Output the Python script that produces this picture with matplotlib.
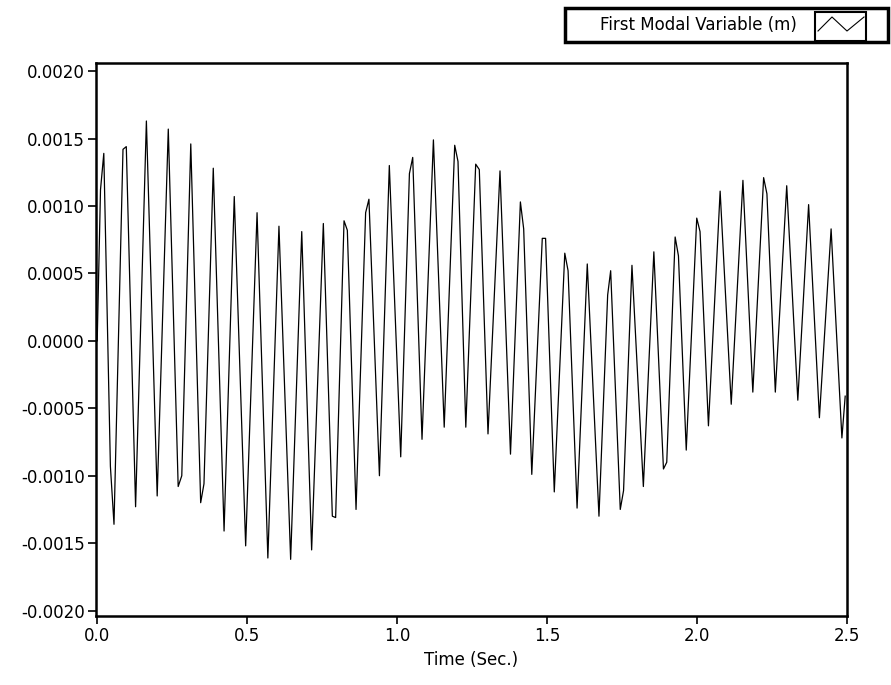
import matplotlib
matplotlib.use("Agg")
import matplotlib.pyplot as plt
from matplotlib.patches import Rectangle
from matplotlib.lines import Line2D

time_s = [0.000, 0.011, 0.022, 0.044, 0.056, 0.086, 0.097, 0.128, 0.164, 0.200,
          0.237, 0.270, 0.282, 0.312, 0.345, 0.356, 0.387, 0.423, 0.457, 0.495,
          0.533, 0.569, 0.606, 0.645, 0.682, 0.715, 0.754, 0.784, 0.795, 0.823,
          0.834, 0.863, 0.895, 0.906, 0.941, 0.974, 1.012, 1.041, 1.052, 1.083,
          1.121, 1.157, 1.192, 1.203, 1.229, 1.262, 1.274, 1.303, 1.343, 1.378,
          1.411, 1.422, 1.449, 1.484, 1.495, 1.524, 1.559, 1.570, 1.600, 1.634,
          1.673, 1.702, 1.712, 1.744, 1.755, 1.783, 1.821, 1.856, 1.888, 1.899,
          1.927, 1.938, 1.964, 1.999, 2.010, 2.038, 2.077, 2.114, 2.153, 2.186,
          2.222, 2.233, 2.261, 2.299, 2.336, 2.372, 2.408, 2.447, 2.483, 2.494]
disp_m = [0.00000, 0.00112, 0.00139, -0.00093, -0.00136, 0.00142, 0.00144, -0.00123, 0.00163, -0.00115,
          0.00157, -0.00108, -0.00100, 0.00146, -0.00120, -0.00106, 0.00128, -0.00141, 0.00107, -0.00152,
          0.00095, -0.00161, 0.00085, -0.00162, 0.00081, -0.00155, 0.00087, -0.00130, -0.00131, 0.00089,
          0.00082, -0.00125, 0.00095, 0.00105, -0.00100, 0.00130, -0.00086, 0.00124, 0.00136, -0.00073,
          0.00149, -0.00064, 0.00145, 0.00133, -0.00064, 0.00131, 0.00127, -0.00069, 0.00126, -0.00084,
          0.00103, 0.00083, -0.00099, 0.00076, 0.00076, -0.00112, 0.00065, 0.00052, -0.00124, 0.00057,
          -0.00130, 0.00034, 0.00052, -0.00125, -0.00111, 0.00056, -0.00108, 0.00066, -0.00095, -0.00090,
          0.00077, 0.00063, -0.00081, 0.00091, 0.00081, -0.00063, 0.00111, -0.00047, 0.00119, -0.00038,
          0.00121, 0.00109, -0.00038, 0.00115, -0.00044, 0.00101, -0.00057, 0.00083, -0.00072, -0.00041]

y_ticks = [-0.0020, -0.0015, -0.0010, -0.0005, 0.0000, 0.0005, 0.0010, 0.0015, 0.0020]
x_ticks = [0.0, 0.5, 1.0, 1.5, 2.0, 2.5]
series_label = "First Modal Variable (m)"
x_label = "Time (Sec.)"

plt.rcParams['font.family'] = ['DejaVu Sans']
W, H = 891, 685
fig = plt.figure(figsize=(W / 100, H / 100), dpi=100)
fig.patch.set_facecolor('white')

ax = fig.add_axes([96 / W, 1 - 616 / H, (847 - 96) / W, (616 - 63) / H])
ax.plot(time_s, disp_m, color='black', lw=0.9)
ax.set_xlim(-0.004, 2.5)
ax.set_ylim(-0.00204, 0.00206)
ax.set_yticks(y_ticks)
ax.set_yticklabels([f"{v:.4f}" for v in y_ticks])
ax.set_xticks(x_ticks)
ax.set_xticklabels([f"{v:.1f}" for v in x_ticks])
ax.tick_params(axis='both', direction='out', length=6, width=1.2, labelsize=12,
               colors='black', pad=2)
for s in ax.spines.values():
    s.set_linewidth(1.8)
    s.set_color('black')
ax.set_xlabel(x_label, fontsize=12, labelpad=4)

# Legend box (LabVIEW style), positioned in figure pixels
def fx(px):
    return px / W

def fy(py):
    return 1 - py / H

fig.add_artist(Rectangle((fx(565), fy(42)), fx(888) - fx(565), fy(8) - fy(42),
                         transform=fig.transFigure, facecolor='white',
                         edgecolor='black', lw=2.5))
fig.text(fx(698), fy(25.5), series_label, fontsize=12, ha='center', va='center')
fig.add_artist(Rectangle((fx(815), fy(41)), fx(866) - fx(815), fy(12) - fy(41),
                         transform=fig.transFigure, facecolor='white',
                         edgecolor='black', lw=1.5))
fig.add_artist(Line2D([fx(818), fx(832), fx(847), fx(864)],
                      [fy(31), fy(17), fy(31), fy(17)],
                      transform=fig.transFigure, color='black', lw=0.8))

fig.savefig("out.png", dpi=100)
